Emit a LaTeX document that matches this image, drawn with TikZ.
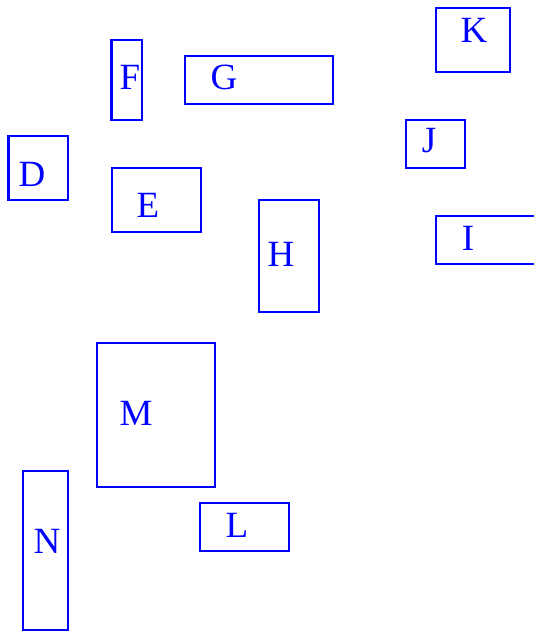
\documentclass[tikz,border=0pt]{standalone}
\usepackage{fontspec}
\setmainfont{Liberation Serif}
\definecolor{boxblue}{RGB}{0,0,255}
\begin{document}
\begin{tikzpicture}[x=1pt,y=-1pt,
  box/.style={draw=boxblue,line width=2.8pt,rectangle,inner sep=0pt,outer sep=0pt},
  lbl/.style={text=boxblue,anchor=base,inner sep=0pt,font=\fontsize{37}{42}\selectfont}]
\useasboundingbox (0,0) rectangle (534,631);
% boxes
\node[box,minimum width=30.5pt,minimum height=80pt] (F) at (126.75,80) {};
\node[box,minimum width=148pt,minimum height=48pt] (G) at (259,80) {};
\node[box,minimum width=74pt,minimum height=64pt] (K) at (473,40) {};
\node[box,minimum width=59pt,minimum height=48pt] (J) at (435.5,144) {};
\node[box,minimum width=59.5pt,minimum height=64pt] (D) at (38.25,168) {};
\node[box,minimum width=89pt,minimum height=64pt] (E) at (156.5,200) {};
\node[box,minimum width=60pt,minimum height=112pt] (H) at (289,256) {};
\node[box,minimum width=124pt,minimum height=48pt] (I) at (498,240) {};
\node[box,minimum width=118pt,minimum height=144pt] (M) at (156,415) {};
\node[box,minimum width=89pt,minimum height=48pt] (L) at (244.5,527) {};
\node[box,minimum width=45pt,minimum height=159pt] (N) at (45.5,550.5) {};
% labels
\node[lbl] (Ft) at (130,90) {F};
\node[lbl] (Gt) at (224,90) {G};
\node[lbl] (Kt) at (474,43) {K};
\node[lbl] (Jt) at (429,153) {J};
\node[lbl] (Dt) at (32,186) {D};
\node[lbl] (Et) at (148,217) {E};
\node[lbl] (Ht) at (281,266) {H};
\node[lbl] (It) at (468,250) {I};
\node[lbl] (Mt) at (136,425) {M};
\node[lbl] (Lt) at (237,537) {L};
\node[lbl] (Nt) at (47,553) {N};
\end{tikzpicture}
\end{document}
